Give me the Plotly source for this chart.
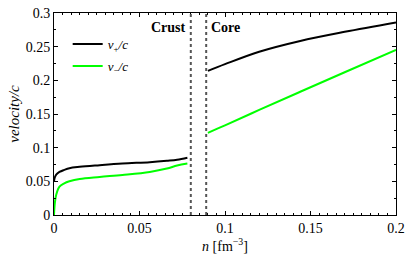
import plotly.graph_objects as go

# Crust region
n_crust = [0.0, 0.0005, 0.0013, 0.0032, 0.006, 0.009, 0.015, 0.0267, 0.04, 0.056, 0.066, 0.072, 0.078]
vp_crust = [0.050, 0.056, 0.060, 0.064, 0.067, 0.0695, 0.0715, 0.074, 0.0765, 0.0785, 0.0805, 0.082, 0.085]
vm_crust = [0.0, 0.018, 0.030, 0.042, 0.047, 0.050, 0.0535, 0.0565, 0.0595, 0.064, 0.069, 0.0735, 0.0765]

# Core region
n_core = [0.090, 0.100, 0.120, 0.144, 0.170, 0.200]
vp_core = [0.214, 0.224, 0.2425, 0.2585, 0.272, 0.286]
vm_core = [0.122, 0.133, 0.156, 0.183, 0.212, 0.245]

boundaries = [0.0800, 0.0890]
x_ticks = [0, 0.05, 0.1, 0.15, 0.2]
x_ticklabels = ["0", "0.05", "0.1", "0.15", "0.2"]
y_ticks = [0, 0.05, 0.1, 0.15, 0.2, 0.25, 0.3]
y_ticklabels = ["0", "0.05", "0.1", "0.15", "0.2", "0.25", "0.3"]

FONT = "Liberation Serif"
BLACK = "#000000"
GREEN = "#00ff00"

fig = go.Figure()
fig.add_trace(go.Scatter(x=n_crust, y=vp_crust, mode="lines", line=dict(color=BLACK, width=2, shape="spline"),
                         name="<i>v</i><sub>+</sub><i>/c</i>", legendgroup="p"))
fig.add_trace(go.Scatter(x=n_core, y=vp_core, mode="lines", line=dict(color=BLACK, width=2, shape="spline"),
                         showlegend=False, legendgroup="p"))
fig.add_trace(go.Scatter(x=n_crust, y=vm_crust, mode="lines", line=dict(color=GREEN, width=2, shape="spline"),
                         name="<i>v</i><sub>−</sub><i>/c</i>", legendgroup="m"))
fig.add_trace(go.Scatter(x=n_core, y=vm_core, mode="lines", line=dict(color=GREEN, width=2, shape="spline"),
                         showlegend=False, legendgroup="m"))

for b in boundaries:
    fig.add_shape(type="line", x0=b, x1=b, y0=0, y1=0.3, xref="x", yref="y",
                  line=dict(color="#555555", width=2, dash="dot"))

fig.add_annotation(x=boundaries[0], y=0.3, xref="x", yref="y", text="<b>Crust</b>", showarrow=False,
                   xanchor="right", yanchor="top", xshift=-3, yshift=-5,
                   font=dict(family=FONT, size=14, color=BLACK))
fig.add_annotation(x=boundaries[1], y=0.3, xref="x", yref="y", text="<b>Core</b>", showarrow=False,
                   xanchor="left", yanchor="top", xshift=3, yshift=-5,
                   font=dict(family=FONT, size=14, color=BLACK))

axis_common = dict(showgrid=False, zeroline=False, showline=True, linecolor=BLACK, linewidth=1,
                   mirror="allticks", ticks="inside", ticklen=4, tickcolor=BLACK, automargin=False,
                   tickfont=dict(family=FONT, size=14, color=BLACK))

fig.update_xaxes(range=[0, 0.2], tickvals=x_ticks, ticktext=x_ticklabels,
                 minor=dict(dtick=0.005, ticks="inside", ticklen=2, tickcolor=BLACK),
                 title=dict(text="<i>n</i> [fm<sup>−3</sup>]", font=dict(family=FONT, size=14, color=BLACK), standoff=0),
                 **axis_common)
fig.update_yaxes(range=[0, 0.3], tickvals=y_ticks, ticktext=y_ticklabels,
                 minor=dict(dtick=0.025, ticks="inside", ticklen=2, tickcolor=BLACK),
                 title=dict(text="<i>velocity/c</i>", font=dict(family=FONT, size=15, color=BLACK), standoff=2),
                 **axis_common)

fig.update_layout(
    width=415, height=257,
    margin=dict(l=54, r=19, t=13, b=42),
    paper_bgcolor="white", plot_bgcolor="white",
    font=dict(family=FONT, color=BLACK),
    legend=dict(x=0.04, y=0.92, xanchor="left", yanchor="top", bgcolor="rgba(0,0,0,0)",
                font=dict(family=FONT, size=13, color=BLACK), tracegroupgap=2, itemwidth=30),
)

fig.write_html("out.html", config={"displayModeBar": False},
               post_script="document.body.style.margin='0';")
